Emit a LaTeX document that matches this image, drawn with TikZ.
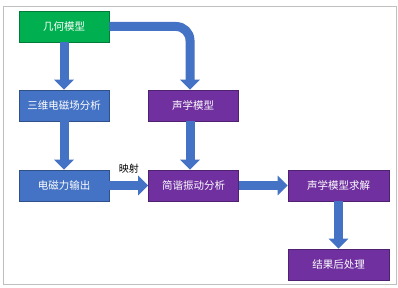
\documentclass[tikz,border=0pt]{standalone}
\usepackage{fontspec}
\newfontfamily\cjk{Noto Sans CJK SC}
\usetikzlibrary{arrows.meta}
\definecolor{boxgreen}{HTML}{00B050}
\definecolor{boxblue}{HTML}{4472C4}
\definecolor{boxpurple}{HTML}{7030A0}
\definecolor{arrowblue}{HTML}{4472C4}
\definecolor{framegray}{HTML}{BFBFBF}
\tikzset{
  box/.style={minimum height=31pt, minimum width=90pt, inner sep=0pt, text=white, font=\cjk\fontsize{10.5}{12}\selectfont, draw=#1!70!black, line width=0.6pt, fill=#1},
  flow/.style={draw=arrowblue, line width=9pt, -{Triangle[width=19pt,length=10pt]}},
}
\begin{document}
\begin{tikzpicture}[x=1pt,y=-1pt]
\useasboundingbox (0,0) rectangle (398,288);
\draw[framegray, line width=1pt] (3,7) rectangle (396,284);
\node[box=boxgreen] (geo) at (64,26.5) {几何模型};
\node[box=boxblue] (em3d) at (64,105.5) {三维电磁场分析};
\node[box=boxpurple] (acm) at (193,105.5) {声学模型};
\node[box=boxblue] (emf) at (64,185.5) {电磁力输出};
\node[box=boxpurple] (harm) at (193.5,185.5) {简谐振动分析};
\node[box=boxpurple, minimum width=101pt] (solve) at (338.5,185.5) {声学模型求解};
\node[box=boxpurple, minimum width=101pt] (post) at (338.5,264.5) {结果后处理};
\draw[flow] (geo.south) -- (em3d.north);
\draw[flow, rounded corners=14pt] (geo.east) -| ([xshift=-3pt]acm.north);
\draw[flow] (em3d.south) -- (emf.north);
\draw[flow] ([xshift=-3pt]acm.south) -- ([xshift=-3.5pt]harm.north);
\draw[flow] (emf.east) -- node[above=4pt, text=black, font=\cjk\fontsize{10}{12}\selectfont] (map) {映射} (harm.west);
\draw[flow] (harm.east) -- (solve.west);
\draw[flow] (solve.south) -- (post.north);
\end{tikzpicture}
\end{document}
